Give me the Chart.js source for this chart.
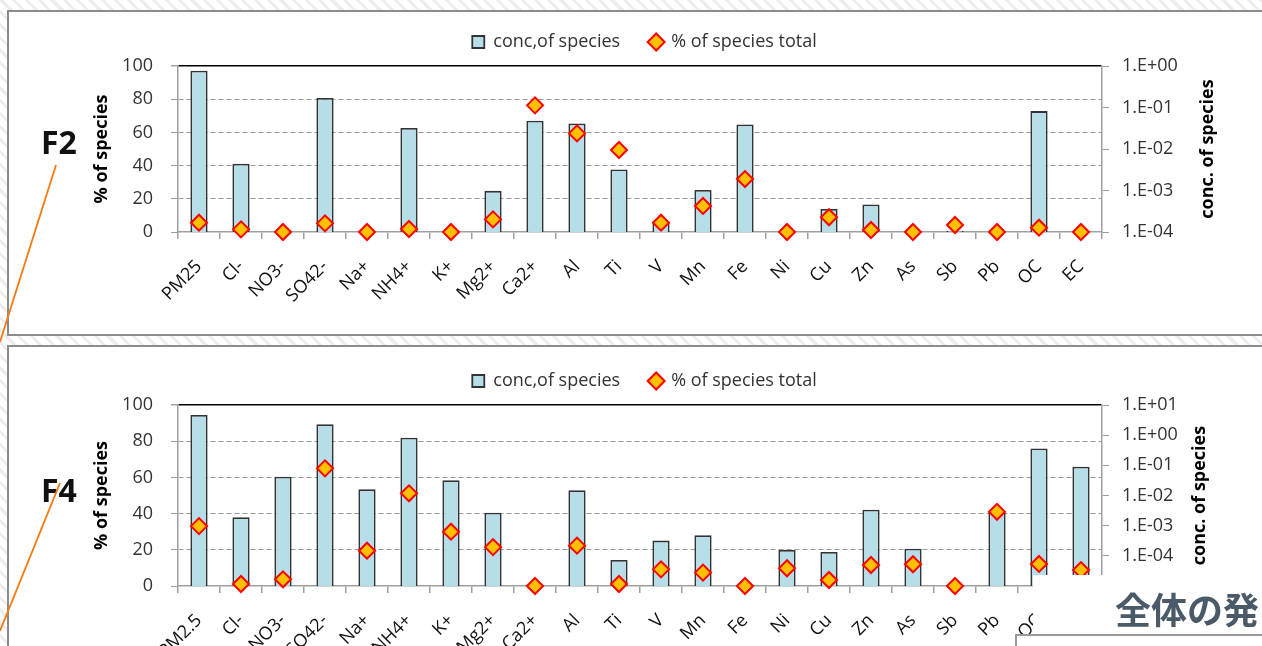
<!DOCTYPE html>
<html>
<head>
<meta charset="utf-8">
<script src="https://cdn.jsdelivr.net/npm/chart.js@4.4.1/dist/chart.umd.min.js"></script>
<style>
  html, body { margin: 0; padding: 0; }
  body {
    width: 1262px; height: 646px; overflow: hidden; position: relative;
    background: repeating-linear-gradient(45deg, #ffffff 0 6px, #ededed 6px 9px);
    font-family: 'Open Sans', sans-serif;
  }
  .panel { position: absolute; left: 7px; width: 1280px; background: #fff; border: 2px solid #8c8c8c; box-sizing: border-box; }
  #panel-f2 { top: 10px; height: 326px; }
  #panel-f4 { top: 345px; height: 330px; }
  canvas.chart { position: absolute; left: 0; }
  .tag { position: absolute; font: bold 32px/32px 'Open Sans', sans-serif; color: #111; }
  svg.leaders { position: absolute; left: 0; top: 0; }
  svg.leaders line { stroke: #f47a12; stroke-width: 1.8; }
  .caption-mask { position: absolute; left: 1033px; top: 575px; width: 240px; height: 80px; background: #fff; }
  .caption-mask span { position: absolute; left: 82px; top: 15px; font: bold 36px/36px 'Noto Sans CJK JP', sans-serif; color: #4b5a69; white-space: nowrap; }
  .caption-frame { position: absolute; left: 1015px; top: 634px; width: 260px; height: 40px; background: #fff; border: 2px solid #9a9a9a; box-sizing: border-box; }
</style>
</head>
<body>
<div class="panel" id="panel-f2"></div>
<div class="panel" id="panel-f4"></div>
<canvas id="chart-f2" class="chart" width="1262" height="340" style="top:0"></canvas>
<canvas id="chart-f4" class="chart" width="1262" height="306" style="top:340px"></canvas>
<div class="tag" style="left:41px; top:126px">F2</div>
<div class="tag" style="left:41px; top:474px">F4</div>
<svg class="leaders" width="1262" height="646">
  <line x1="56" y1="165" x2="0" y2="342"/>
  <line x1="60" y1="483" x2="0" y2="631"/>
</svg>
<div class="caption-mask"><span>全体の発</span></div>
<div class="caption-frame"></div>

<script>
'use strict';

// ---- data ----
const f2Species = ['PM25', 'Cl-', 'NO3-', 'SO42-', 'Na+', 'NH4+', 'K+', 'Mg2+', 'Ca2+', 'Al', 'Ti',
                   'V', 'Mn', 'Fe', 'Ni', 'Cu', 'Zn', 'As', 'Sb', 'Pb', 'OC', 'EC'];
const f2Conc = [0.77, 0.0044, null, 0.17, null, 0.032, null, 0.00098, 0.048, 0.041, 0.0032,
                0.00018, 0.00103, 0.039, null, 0.00036, 0.00046, null, 0.000106, null, 0.082, null];
const f2Pct  = [5.6, 1.6, 0, 5.2, 0, 1.8, 0, 7.6, 76.3, 59.4, 49.4,
                5.6, 15.7, 31.9, 0, 8.9, 1.2, 0, 4.2, 0, 2.6, 0];
const f2ConcTicks = [1e-4, 1e-3, 1e-2, 1e-1, 1];

const f4Species = ['PM2.5', 'Cl-', 'NO3-', 'SO42-', 'Na+', 'NH4+', 'K+', 'Mg2+', 'Ca2+', 'Al', 'Ti',
                   'V', 'Mn', 'Fe', 'Ni', 'Cu', 'Zn', 'As', 'Sb', 'Pb', 'OC', 'EC'];
const f4Conc = [4.65, 0.0019, 0.042, 2.29, 0.016, 0.82, 0.032, 0.0027, null, 0.0149, 0.000073,
                0.00032, 0.00048, null, 0.000156, 0.000134, 0.0034, 0.000173, null, 0.0029, 0.36, 0.09];
const f4Pct  = [33.1, 1.1, 3.7, 65, 19.5, 51.2, 30, 21.5, 0, 22.3, 1.1,
                9.2, 7.4, 0, 9.8, 3.3, 11.6, 12, 0, 41, 12.2, 8.8];
const f4ConcTicks = [1e-5, 1e-4, 1e-3, 1e-2, 1e-1, 1, 10];

const pctTicks = [0, 20, 40, 60, 80, 100];

// ---- look ----
const AXIS_GREY = '#a0a0a0';
const PLOT_LEFT = 178, PLOT_RIGHT = 1102, PAD_LEFT = 87, PAD_RIGHT = 60;

Chart.defaults.font.family = "'Open Sans', sans-serif";
Chart.defaults.font.size = 18;
Chart.defaults.color = '#333';

function concLabel(v) {
  const e = Math.round(Math.log10(v));
  return '1.E' + (e < 0 ? '-' : '+') + String(Math.abs(e)).padStart(2, '0');
}

// right axis title reads bottom-to-top, which the built-in title does not do
const rightTitle = {
  id: 'rightTitle',
  afterDraw(chart, args, opts) {
    const { ctx, chartArea } = chart;
    ctx.save();
    ctx.translate(opts.x, (chartArea.top + chartArea.bottom) / 2);
    ctx.rotate(-Math.PI / 2);
    ctx.font = "bold 18px 'Open Sans', sans-serif";
    ctx.fillStyle = '#000';
    ctx.textAlign = 'center';
    ctx.textBaseline = 'middle';
    ctx.fillText(opts.text, 0, 0);
    ctx.restore();
  }
};

function buildChart(id, spec) {
  const canvas = document.getElementById(id);
  const H = canvas.height;
  return new Chart(canvas, {
    data: {
      labels: spec.labels,
      datasets: [
        {
          type: 'bar', label: 'conc,of species', data: spec.conc, yAxisID: 'yConc',
          backgroundColor: '#B7DDE8', borderColor: '#333', borderWidth: 1.8,
          barPercentage: 0.41, categoryPercentage: 1, pointStyle: 'rect', order: 2
        },
        {
          type: 'line', label: '% of species total', data: spec.pct, yAxisID: 'yPct',
          showLine: false, pointStyle: 'rectRot', pointRadius: 8, pointHoverRadius: 8,
          pointBackgroundColor: '#FFC000', pointBorderColor: '#FF0000', pointBorderWidth: 2,
          backgroundColor: '#FFC000', borderColor: '#FF6a00', clip: false, order: 1
        }
      ]
    },
    options: {
      responsive: false,
      animation: false,
      events: [],
      layout: { padding: { left: PAD_LEFT, right: PAD_RIGHT, top: spec.padTop, bottom: 0 } },
      plugins: {
        tooltip: { enabled: false },
        legend: {
          position: 'top',
          labels: {
            usePointStyle: true, boxWidth: 12, boxHeight: 12, padding: 30,
            color: '#333', font: { size: 18 },
            sort: (a, b) => a.datasetIndex - b.datasetIndex
          }
        },
        // thin spacer between legend and plot
        subtitle: { display: true, text: '', weight: 100, padding: 0, font: { size: 5, lineHeight: 1 } },
        rightTitle: { text: 'conc. of species', x: spec.rightTitleX }
      },
      scales: {
        x: {
          offset: true,
          grid: { offset: true, drawOnChartArea: false, tickLength: 7, color: AXIS_GREY, lineWidth: 1.5 },
          border: { color: AXIS_GREY, width: 1.5 },
          ticks: { autoSkip: false, maxRotation: 45, minRotation: 45, padding: 17, color: '#111' },
          afterFit: (s) => { s.height = H - spec.plotBottom; }
        },
        yPct: {
          type: 'linear', position: 'left', min: 0, max: 100,
          afterBuildTicks: (s) => { s.ticks = pctTicks.map(v => ({ value: v })); },
          afterFit: (s) => { s.width = PLOT_LEFT - PAD_LEFT; },
          title: { display: true, text: '% of species', color: '#000',
                   font: { size: 18, weight: 'bold' }, padding: { top: 4, bottom: 0 } },
          ticks: { padding: 18, color: '#333' },
          grid: {
            tickLength: 7, tickColor: AXIS_GREY, lineWidth: (c) => (c.tick && c.tick.value === 100 ? 1.5 : 1),
            color: (c) => !c.tick ? AXIS_GREY : c.tick.value === 100 ? '#000' : c.tick.value === 0 ? 'rgba(0,0,0,0)' : '#9a9a9a'
          },
          border: { color: AXIS_GREY, width: 1.5, dash: (c) => (c.tick && c.tick.value === 100 ? [] : [5, 3]) }
        },
        yConc: {
          type: 'logarithmic', position: 'right',
          min: spec.concTicks[0], max: spec.concTicks[spec.concTicks.length - 1],
          afterBuildTicks: (s) => { s.ticks = spec.concTicks.map(v => ({ value: v, major: true })); },
          afterFit: (s) => { s.width = 1262 - PAD_RIGHT - PLOT_RIGHT; },
          ticks: { padding: 13, color: '#333', callback: (v) => concLabel(v) },
          grid: { drawOnChartArea: false, tickLength: 7, color: AXIS_GREY },
          border: { color: AXIS_GREY, width: 1.5 }
        }
      }
    },
    plugins: [rightTitle]
  });
}

buildChart('chart-f2', {
  labels: f2Species, conc: f2Conc, pct: f2Pct, concTicks: f2ConcTicks,
  padTop: 3, plotBottom: 232, rightTitleX: 1208
});
buildChart('chart-f4', {
  labels: f4Species, conc: f4Conc, pct: f4Pct, concTicks: f4ConcTicks,
  padTop: 2, plotBottom: 246, rightTitleX: 1200
});
</script>
</body>
</html>
